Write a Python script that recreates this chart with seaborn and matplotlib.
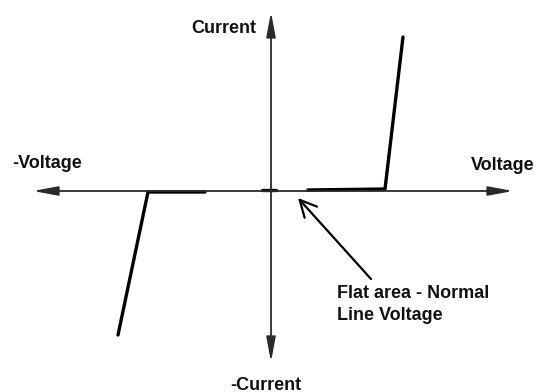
import matplotlib
matplotlib.use("Agg")
import matplotlib.pyplot as plt
import seaborn as sns
import pandas as pd

# V-I characteristic (arbitrary units, origin at axes crossing)
lower_voltage = [-153, -123, -66]
lower_current = [-145, -2, -2]
center_voltage = [-9, 5]
center_current = [0, 0]
upper_voltage = [37, 114, 132]
upper_current = [0, 1, 153]

axis_labels = {"x_pos": "Voltage", "x_neg": "-Voltage", "y_pos": "Current", "y_neg": "-Current"}
note_text = "Flat area - Normal\nLine Voltage"

sns.set_theme(style="white")
plt.rcParams["font.family"] = ["Liberation Sans", "DejaVu Sans"]

fig = plt.figure(figsize=(5.4, 3.92), dpi=100)
ax = fig.add_axes([0, 0, 1, 1])
ax.set_xlim(-271, 269)
ax.set_ylim(-202, 190)
ax.axis("off")

axis_color = "#2a2a2a"
head = "<|-|>,head_length=0.75,head_width=0.14"
# horizontal axis (double arrow)
ax.annotate("", xy=(-238, -1), xytext=(242, -1),
            arrowprops=dict(arrowstyle=head, mutation_scale=20, color=axis_color,
                            lw=1.3, shrinkA=0, shrinkB=0))
# vertical axis (double arrow)
ax.annotate("", xy=(0, 178), xytext=(0, -172),
            arrowprops=dict(arrowstyle=head, mutation_scale=20, color=axis_color,
                            lw=1.3, shrinkA=0, shrinkB=0))

segments = [
    pd.DataFrame({"Voltage": lower_voltage, "Current": lower_current, "seg": "a"}),
    pd.DataFrame({"Voltage": center_voltage, "Current": center_current, "seg": "b"}),
    pd.DataFrame({"Voltage": upper_voltage, "Current": upper_current, "seg": "c"}),
]
for df in segments:
    sns.lineplot(data=df, x="Voltage", y="Current", sort=False, color="black",
                 lw=2.4, ax=ax, estimator=None)
ax.set_xlabel("")
ax.set_ylabel("")

tkw = dict(fontsize=13, fontweight="bold", color="#111111")
ax.text(-47, 162, axis_labels["y_pos"], ha="center", va="center", **tkw)
ax.text(-224, 27, axis_labels["x_neg"], ha="center", va="center", **tkw)
ax.text(232, 25, axis_labels["x_pos"], ha="center", va="center", **tkw)
ax.text(-5, -195, axis_labels["y_neg"], ha="center", va="center", **tkw)
ax.text(66, -95, note_text, ha="left", va="top", linespacing=1.4, **tkw)

ax.annotate("", xy=(27, -8), xytext=(100, -89),
            arrowprops=dict(arrowstyle="->,head_length=0.6,head_width=0.3",
                            mutation_scale=20, color="black", lw=1.6,
                            shrinkA=0, shrinkB=0))

fig.savefig("out.png", dpi=100)
